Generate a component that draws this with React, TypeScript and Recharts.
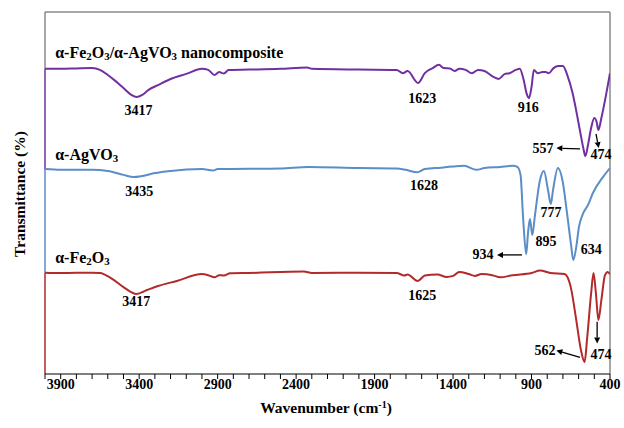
import React from 'react';
import { LineChart, Line, XAxis, YAxis, ReferenceLine, ReferenceDot } from 'recharts';

// FTIR spectra, offset transmittance (arbitrary units, 0-100 over the plot height)
const compositeWn = [4000, 3900, 3800, 3700, 3650, 3600, 3550, 3500, 3450, 3417, 3380, 3340, 3280, 3200, 3100, 3000, 2960, 2920, 2890, 2860, 2830, 2700, 2500, 2330, 2300, 2000, 1760, 1720, 1690, 1623, 1580, 1530, 1490, 1460, 1420, 1390, 1360, 1320, 1280, 1240, 1200, 1140, 1110, 1070, 1040, 1000, 975, 950, 930, 916, 900, 885, 860, 830, 810, 790, 760, 730, 700, 670, 640, 620, 590, 570, 557, 540, 520, 500, 485, 474, 455, 430, 400];
const compositeT = [84.3, 84.3, 84.4, 84.5, 84.0, 82.6, 80.9, 79.0, 77.1, 76.5, 77.1, 78.5, 79.8, 81.5, 82.9, 84.3, 84.0, 82.6, 83.4, 83.0, 84.0, 84.1, 84.3, 84.7, 84.3, 84.1, 84.0, 83.1, 83.7, 80.4, 83.1, 84.5, 85.4, 84.5, 84.4, 83.7, 84.3, 84.0, 83.1, 84.0, 83.7, 82.0, 81.5, 82.9, 83.1, 84.0, 84.3, 81.2, 77.3, 76.2, 79.3, 84.0, 83.1, 83.4, 83.4, 83.1, 84.5, 85.1, 85.1, 82.3, 77.9, 73.8, 66.9, 62.4, 60.2, 63.3, 68.0, 70.7, 69.6, 67.4, 70.7, 76.0, 83.1];

const agvoWn = [4000, 3900, 3700, 3600, 3500, 3435, 3380, 3300, 3200, 3000, 2930, 2900, 2500, 2320, 2000, 1760, 1700, 1628, 1580, 1480, 1400, 1330, 1250, 1200, 1100, 1020, 990, 970, 954, 934, 922, 910, 895, 878, 846, 821, 795, 777, 763, 732, 700, 674, 648, 634, 615, 598, 573, 540, 509, 445, 400];
const agvoT = [56.6, 56.4, 56.4, 56.1, 55.0, 54.4, 54.7, 55.5, 56.1, 56.6, 56.2, 56.6, 56.8, 57.2, 56.9, 56.8, 56.4, 55.7, 56.6, 57.0, 57.3, 57.5, 56.4, 56.9, 57.2, 57.5, 57.2, 55.0, 43.4, 33.1, 39.2, 42.8, 38.4, 43.9, 53.6, 56.1, 50.8, 47.0, 50.8, 56.9, 52.8, 44.5, 35.6, 31.5, 35.1, 40.6, 44.2, 46.7, 50.0, 54.4, 56.9];

const feoWn = [4000, 3900, 3700, 3650, 3580, 3500, 3417, 3350, 3280, 3160, 3000, 2960, 2920, 2890, 2860, 2820, 2700, 2350, 2300, 2000, 1760, 1710, 1690, 1625, 1580, 1500, 1440, 1400, 1360, 1300, 1260, 1220, 1150, 1100, 1020, 900, 846, 780, 690, 650, 615, 585, 562, 545, 520, 505, 490, 474, 455, 432, 415, 400];
const feoT = [28.0, 27.9, 28.0, 27.9, 26.5, 24.0, 22.1, 23.2, 24.3, 25.7, 27.6, 27.3, 26.7, 27.3, 27.2, 27.8, 27.9, 28.3, 27.9, 28.0, 27.9, 27.2, 27.5, 25.7, 27.2, 27.5, 26.8, 27.1, 28.2, 27.6, 27.1, 27.6, 27.3, 26.7, 27.3, 27.9, 28.6, 27.9, 27.6, 24.0, 14.9, 6.6, 3.3, 10.2, 22.4, 27.9, 22.4, 14.9, 20.4, 27.3, 28.2, 27.6];

const majorTicks = [3900, 3400, 2900, 2400, 1900, 1400, 900, 400];
const allTicks = [4000, 3900, 3800, 3700, 3600, 3500, 3400, 3300, 3200, 3100, 3000, 2900, 2800, 2700, 2600, 2500, 2400, 2300, 2200, 2100, 2000, 1900, 1800, 1700, 1600, 1500, 1400, 1300, 1200, 1100, 1000, 900, 800, 700, 600, 500, 400];

// sample names, peak labels and arrows, placed in data coordinates
const seriesNames = ['α-Fe2O3/α-AgVO3 nanocomposite', 'α-AgVO3', 'α-Fe2O3'];
const seriesNameT = [88.9, 60.8, 32.2];

const peakText = ['3417', '1623', '916', '557', '474', '3435', '1628', '934', '895', '777', '634', '3417', '1625', '562', '474'];
const peakWn = [3405, 1597, 921, 827, 458, 3400, 1585, 1209, 807, 776, 520, 3418, 1597, 814, 458];
const peakT = [72.9, 76.2, 73.5, 62.4, 60.5, 50.3, 52.2, 32.9, 36.7, 44.5, 34.5, 19.9, 21.8, 6.6, 5.5];

const arrows = [
  { from: [591, 62.2], to: [742, 62.4] },
  { from: [489, 66.3], to: [472, 62.4] },
  { from: [961, 32.9], to: [1120, 32.9] },
  { from: [591, 4.6], to: [742, 6.5] },
  { from: [482, 14.4], to: [482, 8.4] },
];

const COLORS = ['#7030A0', '#5B8DC6', '#B22A2A'];
const FONT = '"Liberation Serif", "Times New Roman", serif';

const toRows = (wn: number[], t: number[]) => wn.map((w, i) => ({ wn: w, t: t[i] }));
const series = [toRows(compositeWn, compositeT), toRows(agvoWn, agvoT), toRows(feoWn, feoT)];

// digits become subscripts (chemical formulas)
const Chem = ({ x, y, text, size }: { x: number; y: number; text: string; size: number }) => {
  const parts = text.match(/\d+|\D+/g) || [];
  let shifted = false;
  return (
    <text x={x} y={y} fontFamily={FONT} fontWeight="bold" fontSize={size} fill="#000" dominantBaseline="central">
      {parts.map((p, i) => {
        const isSub = /\d/.test(p);
        const dy = isSub ? (shifted ? 0 : 4) : shifted ? -4 : 0;
        shifted = isSub;
        return (
          <tspan key={i} dy={dy} fontSize={isSub ? size * 0.68 : size}>
            {p}
          </tspan>
        );
      })}
    </text>
  );
};

const Arrow = (p: any) => {
  const { x1, y1, x2, y2 } = p;
  const ang = Math.atan2(y2 - y1, x2 - x1);
  const L = 6;
  const W = 3;
  const bx = x2 - L * Math.cos(ang);
  const by = y2 - L * Math.sin(ang);
  const px = -Math.sin(ang) * W;
  const py = Math.cos(ang) * W;
  return (
    <g>
      <line x1={x1} y1={y1} x2={bx} y2={by} stroke="#000" strokeWidth={1.3} />
      <polygon points={`${x2},${y2} ${bx + px},${by + py} ${bx - px},${by - py}`} fill="#000" />
    </g>
  );
};

const XTick = (props: any) => {
  const { x, y, payload } = props;
  if (!majorTicks.includes(payload.value)) return null;
  return (
    <text x={x} y={y + 8} textAnchor="middle" fontFamily={FONT} fontWeight="bold" fontSize={14} fill="#000">
      {payload.value}
    </text>
  );
};

export default function App() {
  return (
    <div style={{ position: 'absolute', left: 0, top: 0, width: 624, height: 428, background: '#fff' }}>
      <LineChart width={624} height={428} margin={{ top: 12, right: 14, bottom: 14, left: 45 }}>
        <XAxis
          dataKey="wn"
          type="number"
          domain={[400, 4000]}
          reversed
          ticks={allTicks}
          interval={0}
          tick={<XTick />}
          tickSize={5}
          height={40}
          axisLine={{ stroke: '#000', strokeWidth: 1.2 }}
          tickLine={{ stroke: '#000' }}
          allowDataOverflow
        />
        <YAxis type="number" domain={[0, 100]} hide width={0} allowDataOverflow />

        {/* frame */}
        <ReferenceLine y={100} stroke="#8a8a8a" strokeWidth={1.5} />
        <ReferenceLine x={400} stroke="#8a8a8a" strokeWidth={1.5} />
        <ReferenceLine segment={[{ x: 4000, y: 100 }, { x: 4000, y: compositeT[0] }]} stroke="#8a8a8a" strokeWidth={1.5} />
        <ReferenceLine segment={[{ x: 4000, y: compositeT[0] }, { x: 4000, y: agvoT[0] }]} stroke={COLORS[0]} strokeWidth={1.5} />
        <ReferenceLine segment={[{ x: 4000, y: agvoT[0] }, { x: 4000, y: feoT[0] }]} stroke={COLORS[1]} strokeWidth={1.5} />
        <ReferenceLine segment={[{ x: 4000, y: feoT[0] }, { x: 4000, y: 0 }]} stroke={COLORS[2]} strokeWidth={1.5} />

        {series.map((rows, i) => (
          <Line
            key={i}
            data={rows}
            dataKey="t"
            type="monotone"
            stroke={COLORS[i]}
            strokeWidth={2}
            dot={false}
            activeDot={false}
            isAnimationActive={false}
          />
        ))}

        {seriesNames.map((name, i) => (
          <ReferenceDot
            key={name}
            x={3935}
            y={seriesNameT[i]}
            r={0}
            shape={(p: any) => <Chem x={p.cx} y={p.cy} text={name} size={16} />}
          />
        ))}

        {peakText.map((txt, i) => (
          <ReferenceDot
            key={`pk-${i}`}
            x={peakWn[i]}
            y={peakT[i]}
            r={0}
            shape={(p: any) => (
              <text x={p.cx} y={p.cy} textAnchor="middle" dominantBaseline="central" fontFamily={FONT} fontWeight="bold" fontSize={14} fill="#000">
                {txt}
              </text>
            )}
          />
        ))}

        {arrows.map((a, i) => (
          <ReferenceLine
            key={`ar-${i}`}
            segment={[{ x: a.from[0], y: a.from[1] }, { x: a.to[0], y: a.to[1] }]}
            shape={(p: any) => <Arrow {...p} />}
          />
        ))}
      </LineChart>

      <div style={{ position: 'absolute', left: 0, top: 0, width: 624, height: 428, pointerEvents: 'none' }}>
        <svg width={624} height={428}>
          <text x={326} y={413} textAnchor="middle" fontFamily={FONT} fontWeight="bold" fontSize={15.5} fill="#000">
            Wavenumber (cm
            <tspan dy={-5} fontSize={10}>-1</tspan>
            <tspan dy={5}>)</tspan>
          </text>
          <text
            x={0}
            y={0}
            transform="translate(19,194) rotate(-90)"
            textAnchor="middle"
            dominantBaseline="central"
            fontFamily={FONT}
            fontWeight="bold"
            fontSize={15.5}
            fill="#000"
          >
            Transmittance (%)
          </text>
        </svg>
      </div>
    </div>
  );
}
